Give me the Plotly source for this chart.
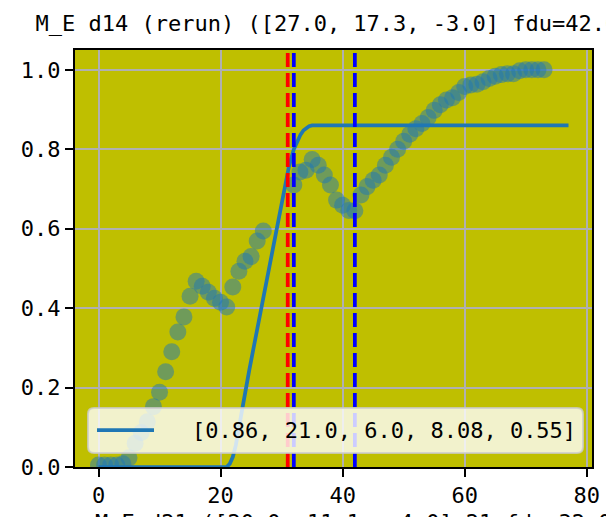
import plotly.graph_objects as go

# ---- data ----
scatter_x = list(range(0, 28)) + list(range(32, 74))
scatter_y = [0.005, 0.005, 0.005, 0.005, 0.008, 0.023, 0.06, 0.087, 0.114, 0.152,
             0.188, 0.24, 0.29, 0.34, 0.378, 0.43, 0.468, 0.455, 0.44, 0.425,
             0.415, 0.403, 0.453, 0.493, 0.518, 0.53, 0.569, 0.594,
             0.71, 0.743, 0.747, 0.774, 0.76, 0.735, 0.71, 0.672, 0.659, 0.646,
             0.645, 0.685, 0.706, 0.722, 0.735, 0.76, 0.78, 0.80, 0.82, 0.838,
             0.852, 0.865, 0.88, 0.898, 0.912, 0.924, 0.93, 0.943, 0.958, 0.962,
             0.964, 0.97, 0.978, 0.984, 0.988, 0.99, 0.99, 0.998, 1.0, 1.0, 1.0, 1.0]

fit_x = [0, 21, 21.5, 22, 22.5, 23, 23.6, 24.7, 25.8, 26.9, 28, 29.1, 30.2, 31.2,
         32, 32.6, 33.1, 33.6, 34.0, 34.5, 35.0, 77]
fit_y = [0, 0, 0.008, 0.025, 0.055, 0.095, 0.15, 0.244, 0.33, 0.413, 0.497, 0.588,
         0.68, 0.757, 0.8, 0.823, 0.837, 0.848, 0.853, 0.858, 0.86, 0.86]

red_lines = [31]
blue_lines = [32, 42]

fit_label = "[0.86, 21.0, 6.0, 8.08, 0.55]"
title_text = "M_E d14 (rerun) ([27.0, 17.3, -3.0] fdu=42.0)"
next_title = "M_E d21 ([20.0, 11.1, -4.0] 21 fdu=32.0)"

x_ticks = [0, 20, 40, 60, 80]
y_ticks = [0.0, 0.2, 0.4, 0.6, 0.8, 1.0]
y_ticktext = ["0.0", "0.2", "0.4", "0.6", "0.8", "1.0"]
x_range = [-3.85, 80.85]
y_range = [0.0, 1.05]

# ---- layout geometry (pixels) ----
W, H = 606, 517
ML, MR, MT, MB = 75, 14, 50, 50
PW, PH = W - ML - MR, H - MT - MB

def px_x(p):
    return (p - ML) / PW

def px_y(p):
    return (H - MB - p) / PH

FONT = "DejaVu Sans Mono"
BLUE = "#1f77b4"

fig = go.Figure()

fig.add_trace(go.Scatter(
    x=scatter_x, y=scatter_y, mode="markers",
    marker=dict(size=17, color=BLUE, opacity=0.5, line=dict(width=0)),
    showlegend=False, hoverinfo="skip"))

fig.add_trace(go.Scatter(
    x=fit_x, y=fit_y, mode="lines",
    line=dict(color=BLUE, width=3.75),
    showlegend=False, hoverinfo="skip"))

for v in red_lines:
    fig.add_trace(go.Scatter(
        x=[v, v], y=y_range, mode="lines",
        line=dict(color="red", width=3.75, dash="14px,6px"),
        showlegend=False, hoverinfo="skip"))
for v in blue_lines:
    fig.add_trace(go.Scatter(
        x=[v, v], y=y_range, mode="lines",
        line=dict(color="blue", width=3.75, dash="14px,6px"),
        showlegend=False, hoverinfo="skip"))

# ---- manual legend (matplotlib-like frame) ----
lx0, lx1, ly0, ly1 = px_x(88), px_x(583), px_y(453), px_y(408)
r_x = 6 / PW
r_y = 6 / PH
path = (f"M {lx0 + r_x},{ly0} L {lx1 - r_x},{ly0} Q {lx1},{ly0} {lx1},{ly0 + r_y} "
        f"L {lx1},{ly1 - r_y} Q {lx1},{ly1} {lx1 - r_x},{ly1} "
        f"L {lx0 + r_x},{ly1} Q {lx0},{ly1} {lx0},{ly1 - r_y} "
        f"L {lx0},{ly0 + r_y} Q {lx0},{ly0} {lx0 + r_x},{ly0} Z")
shapes = [
    dict(type="path", path=path, xref="paper", yref="paper",
         fillcolor="rgba(255,255,255,0.8)", line=dict(color="rgba(204,204,204,0.8)", width=2),
         layer="above"),
    dict(type="line", xref="paper", yref="paper",
         x0=px_x(97), x1=px_x(154), y0=px_y(430), y1=px_y(430),
         line=dict(color=BLUE, width=3.75), layer="above"),
]

annotations = [
    dict(text=fit_label, xref="paper", yref="paper", x=px_x(190), y=px_y(430),
         xanchor="left", yanchor="middle", showarrow=False,
         font=dict(family=FONT, size=22, color="black")),
    dict(text=next_title, xref="paper", yref="paper", x=px_x(93), y=px_y(508),
         xanchor="left", yanchor="top", showarrow=False,
         font=dict(family=FONT, size=22, color="black")),
]

axis_common = dict(
    showline=True, linecolor="black", linewidth=2, mirror=True,
    ticks="outside", ticklen=8, tickwidth=2, tickcolor="black",
    showgrid=True, gridcolor="#b0b0b0", gridwidth=2, zeroline=False,
    automargin=False,
    tickfont=dict(family=FONT, size=22, color="black"),
)

fig.update_layout(
    width=W, height=H,
    margin=dict(l=ML, r=MR, t=MT, b=MB, pad=0, autoexpand=False),
    paper_bgcolor="white", plot_bgcolor="#bfbf00",
    title=dict(text=title_text, x=0.5, xref="paper", xanchor="center",
               y=(H - 23) / H, yref="container", yanchor="middle",
               automargin=False,
               font=dict(family=FONT, size=22, color="black")),
    xaxis=dict(range=x_range, tickvals=x_ticks, **axis_common),
    yaxis=dict(range=y_range, tickvals=y_ticks, ticktext=y_ticktext, **axis_common),
    shapes=shapes, annotations=annotations,
    showlegend=False,
)

fig.write_html("out.html",
               config={"displayModeBar": False, "staticPlot": True},
               post_script="document.body.style.margin='0';document.body.style.overflow='hidden';")
